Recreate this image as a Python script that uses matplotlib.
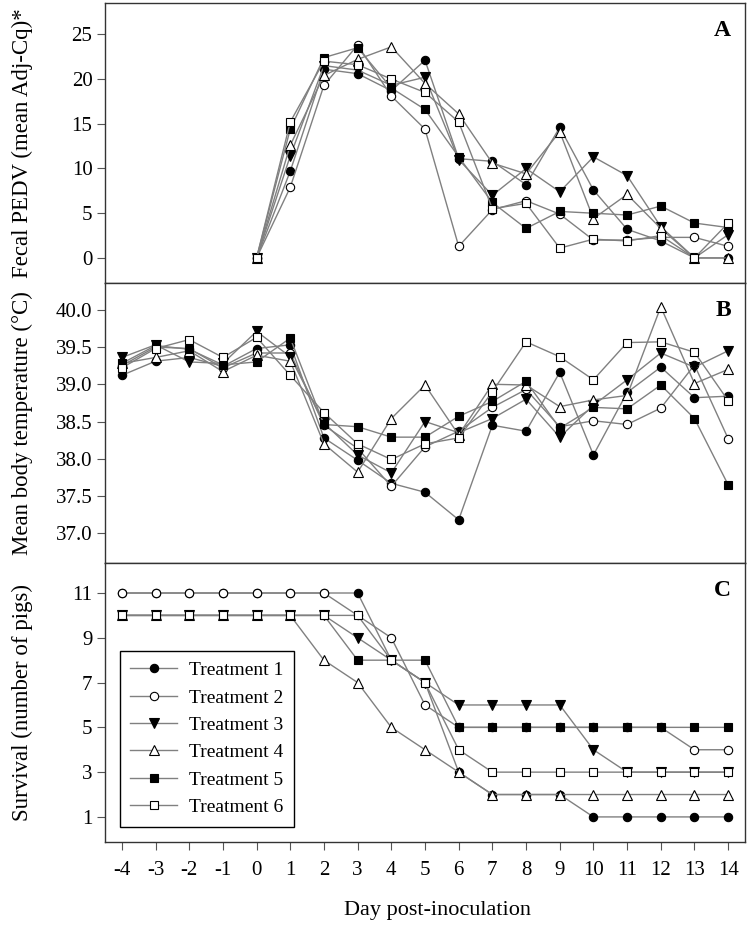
import matplotlib
matplotlib.use("Agg")
import matplotlib.pyplot as plt

plt.rcParams['font.family'] = ['Liberation Serif', 'DejaVu Serif']
plt.rcParams['axes.unicode_minus'] = False

days_a = list(range(0, 15))
days = list(range(-4, 15))

# fecal PEDV, days 0..14
pedv_t1 = [0, 9.7, 21.1, 20.6, 18.7, 22.1, 11.1, 10.8, 8.2, 14.6, 7.6, 3.2, 1.9, 0, 0]
pedv_t2 = [0, 7.9, 19.3, 23.8, 18.1, 14.4, 1.3, 5.4, 6.4, 4.9, 2.0, 2.0, 2.3, 2.3, 1.3]
pedv_t3 = [0, 11.4, 21.5, 21.0, 19.3, 20.2, 11.0, 7.0, 10.0, 7.4, 11.3, 9.2, 3.5, 0, 2.6]
pedv_t4 = [0, 12.6, 20.4, 22.2, 23.6, 19.5, 16.1, 10.6, 9.4, 14.1, 4.4, 7.1, 3.3, 0, 0]
pedv_t5 = [0, 14.4, 22.4, 23.5, 19.0, 16.6, 11.3, 6.2, 3.3, 5.2, 5.0, 4.8, 5.8, 3.9, 3.4]
pedv_t6 = [0, 15.2, 22.0, 21.6, 20.0, 18.5, 15.2, 5.5, 6.1, 1.1, 2.1, 1.9, 2.5, 0, 3.9]

# body temperature, days -4..14
temp_t1 = [39.12, 39.31, 39.36, 39.24, 39.48, 39.53, 38.28, 37.98, 37.67, 37.55, 37.18,
           38.45, 38.37, 39.16, 38.05, 38.89, 39.23, 38.82, 38.84]
temp_t2 = [39.25, 39.50, 39.48, 39.22, 39.42, 39.42, 38.45, 38.14, 37.63, 38.16, 38.37,
           38.69, 38.93, 38.43, 38.51, 38.46, 38.68, 39.26, 38.27]
temp_t3 = [39.36, 39.53, 39.30, 39.28, 39.71, 39.37, 38.48, 38.05, 37.81, 38.50, 38.35,
           38.54, 38.80, 38.29, 38.72, 39.06, 39.42, 39.23, 39.45]
temp_t4 = [39.28, 39.36, 39.45, 39.17, 39.39, 39.31, 38.20, 37.82, 38.54, 38.99, 38.32,
           39.00, 38.99, 38.70, 38.79, 38.85, 40.04, 39.01, 39.20]
temp_t5 = [39.28, 39.52, 39.47, 39.26, 39.30, 39.62, 38.46, 38.43, 38.29, 38.29, 38.57,
           38.77, 39.04, 38.41, 38.69, 38.67, 38.99, 38.54, 37.65]
temp_t6 = [39.22, 39.48, 39.60, 39.36, 39.63, 39.12, 38.62, 38.20, 37.99, 38.20, 38.28,
           38.90, 39.57, 39.37, 39.06, 39.56, 39.57, 39.43, 38.78]

# survival, days -4..14
surv_t1 = [11, 11, 11, 11, 11, 11, 11, 11, 8, 7, 3, 2, 2, 2, 1, 1, 1, 1, 1]
surv_t2 = [11, 11, 11, 11, 11, 11, 11, 10, 9, 6, 5, 5, 5, 5, 5, 5, 5, 4, 4]
surv_t3 = [10, 10, 10, 10, 10, 10, 10, 9, 8, 7, 6, 6, 6, 6, 4, 3, 3, 3, 3]
surv_t4 = [10, 10, 10, 10, 10, 10, 8, 7, 5, 4, 3, 2, 2, 2, 2, 2, 2, 2, 2]
surv_t5 = [10, 10, 10, 10, 10, 10, 10, 8, 8, 8, 5, 5, 5, 5, 5, 5, 5, 5, 5]
surv_t6 = [10, 10, 10, 10, 10, 10, 10, 10, 8, 7, 4, 3, 3, 3, 3, 3, 3, 3, 3]

labels = ["Treatment 1", "Treatment 2", "Treatment 3",
          "Treatment 4", "Treatment 5", "Treatment 6"]
styles = [("o", "black", 6), ("o", "white", 6), ("v", "black", 6.5),
          ("^", "white", 6.5), ("s", "black", 5.5), ("s", "white", 5.5)]

fig = plt.figure(figsize=(7.49, 9.33), dpi=100)
left, width = 105 / 749, 640 / 749
ax_a = fig.add_axes([left, 1 - 283 / 933, width, 280 / 933])
ax_b = fig.add_axes([left, 1 - 563 / 933, width, 280 / 933])
ax_c = fig.add_axes([left, 1 - 842 / 933, width, 279 / 933])


def draw(ax, x, series):
    for i, ys in enumerate(series):
        m, fc, ms = styles[i]
        ax.plot(x, ys, color="#808080", lw=1.0, marker=m, markerfacecolor=fc,
                markeredgecolor="black", markeredgewidth=0.8, markersize=ms,
                label=labels[i])


draw(ax_a, days_a, [pedv_t1, pedv_t2, pedv_t3, pedv_t4, pedv_t5, pedv_t6])
draw(ax_b, days, [temp_t1, temp_t2, temp_t3, temp_t4, temp_t5, temp_t6])
draw(ax_c, days, [surv_t1, surv_t2, surv_t3, surv_t4, surv_t5, surv_t6])

for ax in (ax_a, ax_b, ax_c):
    ax.set_xlim(-4.5, 14.5)
    for s in ax.spines.values():
        s.set_color("#333333")
        s.set_linewidth(1.0)
    ax.tick_params(axis="y", direction="out", length=6, width=0.8, pad=3,
                   labelsize=15, color="#555555")

ax_a.set_ylim(-2.8, 28.5)
ax_a.set_yticks([0, 5, 10, 15, 20, 25])
ax_b.set_ylim(36.6, 40.36)
ax_b.set_yticks([37.0, 37.5, 38.0, 38.5, 39.0, 39.5, 40.0])
ax_b.set_yticklabels(["37.0", "37.5", "38.0", "38.5", "39.0", "39.5", "40.0"])
ax_c.set_ylim(-0.12, 12.34)
ax_c.set_yticks([1, 3, 5, 7, 9, 11])

for ax in (ax_a, ax_b):
    ax.set_xticks([])
ax_c.set_xticks(days)
ax_c.tick_params(axis="x", direction="out", length=6, width=0.8, pad=8,
                 labelsize=15, color="#555555")
ax_c.set_xlabel("Day post-inoculation", fontsize=16)
ax_c.xaxis.set_label_coords(0.519, -0.244)
ax_c.xaxis.label.set_va("center")

ax_a.set_ylabel("Fecal PEDV (mean Adj-Cq)*", fontsize=16.5)
ax_b.set_ylabel("Mean body temperature (\u00b0C)", fontsize=16.5)
ax_c.set_ylabel("Survival (number of pigs)", fontsize=16.5)
for ax in (ax_a, ax_b, ax_c):
    ax.yaxis.set_label_coords(-0.112, 0.5)

for ax, letter in ((ax_a, "A"), (ax_b, "B"), (ax_c, "C")):
    ax.text(0.978, 0.9, letter, transform=ax.transAxes, ha="right", va="center",
            fontsize=17, fontweight="bold")

leg = ax_c.legend(loc="upper left", bbox_to_anchor=(0.023, 0.685), fontsize=14,
                  frameon=True, fancybox=False, edgecolor="black", framealpha=1,
                  handlelength=2.4, borderpad=0.55, labelspacing=0.5,
                  handletextpad=0.6, borderaxespad=0)
leg.get_frame().set_linewidth(1.0)

fig.savefig("out.png", dpi=100)
